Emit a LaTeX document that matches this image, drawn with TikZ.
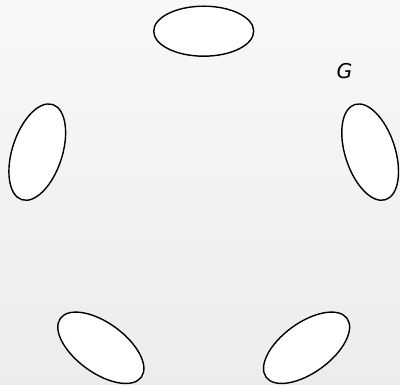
\documentclass[tikz,border=0pt]{standalone}
\usepackage{fontspec}
\newfontfamily\labelfont{DejaVu Sans}
\usepackage{tikz}
\usetikzlibrary{shapes.geometric}
\usepackage{xcolor}
\definecolor{bgtop}{RGB}{248,248,248}
\definecolor{bgbottom}{RGB}{236,236,236}

\begin{document}
\begin{tikzpicture}[
  blob/.style={draw, ellipse, fill=white, line width=1pt, minimum width=2.5cm, minimum height=1.25cm, inner sep=0pt}]
  \shade[top color=bgtop, bottom color=bgbottom] (-5.0925,-4.47) rectangle (4.9075,5.155);
  \useasboundingbox (-5.0925,-4.47) rectangle (4.9075,5.155);
  % five ellipses on a circle, each turned along it
  \foreach \i/\a in {1/90, 2/162, 3/234, 4/306, 5/18}
    \node[blob, rotate=\a-90] (v\i) at (\a:4.375) {};
  \node (G) at (3.52,3.37) {\labelfont\itshape\fontsize{14.5}{17}\selectfont G};
\end{tikzpicture}
\end{document}
